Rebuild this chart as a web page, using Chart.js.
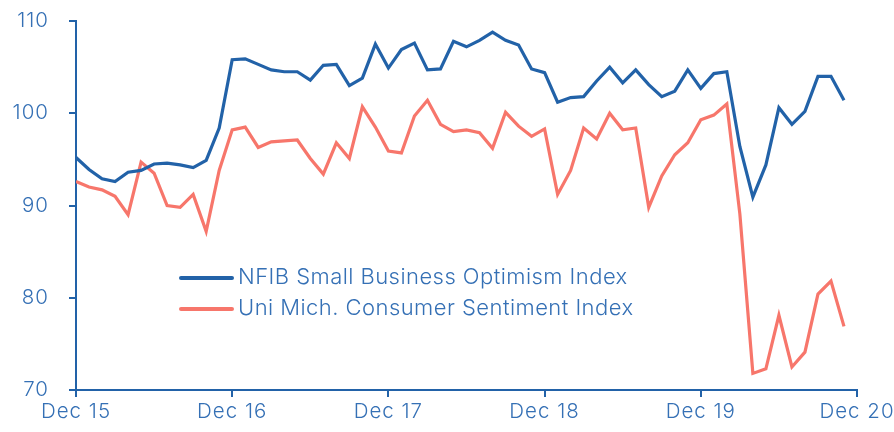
<!DOCTYPE html>
<html>
<head>
<meta charset="utf-8">
<script src="https://cdn.jsdelivr.net/npm/chart.js@4.4.1/dist/chart.umd.min.js"></script>
<style>
  html, body { margin: 0; padding: 0; background: #fff; overflow: hidden; }
  #wrap { width: 894px; height: 432px; }
</style>
</head>
<body>
<div id="wrap"><canvas id="grafico" width="894" height="432"></canvas></div>
<script>
// meses desde Dic 15 hasta Nov 20
const etiquetasX = ['Dec 15', 'Dec 16', 'Dec 17', 'Dec 18', 'Dec 19', 'Dec 20'];
const ticksY = [70, 80, 90, 100, 110];

const nfib = [
  95.2,
  93.9, 92.9, 92.6, 93.6, 93.8, 94.5, 94.6, 94.4, 94.1, 94.9, 98.4, 105.8,
  105.9, 105.3, 104.7, 104.5, 104.5, 103.6, 105.2, 105.3, 103.0, 103.8, 107.5, 104.9,
  106.9, 107.6, 104.7, 104.8, 107.8, 107.2, 107.9, 108.8, 107.9, 107.4, 104.8, 104.4,
  101.2, 101.7, 101.8, 103.5, 105.0, 103.3, 104.7, 103.1, 101.8, 102.4, 104.7, 102.7,
  104.3, 104.5, 96.4, 90.9, 94.4, 100.6, 98.8, 100.2, 104.0, 104.0, 101.4
];

const umich = [
  92.6,
  92.0, 91.7, 91.0, 89.0, 94.7, 93.5, 90.0, 89.8, 91.2, 87.2, 93.8, 98.2,
  98.5, 96.3, 96.9, 97.0, 97.1, 95.1, 93.4, 96.8, 95.1, 100.7, 98.5, 95.9,
  95.7, 99.7, 101.4, 98.8, 98.0, 98.2, 97.9, 96.2, 100.1, 98.6, 97.5, 98.3,
  91.2, 93.8, 98.4, 97.2, 100.0, 98.2, 98.4, 89.8, 93.2, 95.5, 96.8, 99.3,
  99.8, 101.0, 89.1, 71.8, 72.3, 78.1, 72.5, 74.1, 80.4, 81.8, 76.9
];

const azul = '#2262a8';
const rojo = '#f7766b';
const azulTexto = '#3570b5';
const fuente = "Inter, 'Liberation Sans', sans-serif";

const puntos = arr => arr.map((v, i) => ({x: i, y: v}));

// espaciado de letras para los textos de los ejes
const espaciado = {
  id: 'espaciado',
  beforeDraw(chart) { chart.ctx.letterSpacing = '1px'; },
  afterDraw(chart) { chart.ctx.letterSpacing = '0px'; }
};

// leyenda dentro del grafico
const leyenda = {
  id: 'leyenda',
  afterDraw(chart) {
    const ctx = chart.ctx;
    const items = chart.data.datasets;
    ctx.save();
    ctx.font = '300 22px ' + fuente;
    ctx.letterSpacing = '0.45px';
    ctx.textBaseline = 'middle';
    items.forEach((ds, i) => {
      const y = 277 + i * 31;
      ctx.strokeStyle = ds.borderColor;
      ctx.lineWidth = 4;
      ctx.lineCap = 'round';
      ctx.beginPath();
      ctx.moveTo(181, y + 1);
      ctx.lineTo(232, y + 1);
      ctx.stroke();
      ctx.fillStyle = azulTexto;
      ctx.fillText(ds.label, 238, y);
    });
    ctx.restore();
  }
};

const ctx = document.getElementById('grafico').getContext('2d');
const chart = new Chart(ctx, {
  type: 'line',
  data: {
    datasets: [{
      label: 'NFIB Small Business Optimism Index',
      data: puntos(nfib),
      borderColor: azul,
      borderWidth: 3.2,
      pointRadius: 0,
      fill: false
    }, {
      label: 'Uni Mich. Consumer Sentiment Index',
      data: puntos(umich),
      borderColor: rojo,
      borderWidth: 3.2,
      pointRadius: 0,
      fill: false
    }]
  },
  options: {
    responsive: false,
    animation: false,
    layout: { padding: { top: 21, right: 37, left: 0, bottom: 0 } },
    plugins: { legend: { display: false }, tooltip: { enabled: false } },
    scales: {
      x: {
        type: 'linear',
        min: 0,
        max: 60,
        afterBuildTicks: s => { s.ticks = etiquetasX.map((t, i) => ({value: i * 12})); },
        afterFit: s => { s.height = 42; s.paddingLeft = 0; s.paddingRight = 0; },
        ticks: {
          callback: (v) => etiquetasX[v / 12],
          color: azulTexto,
          font: { family: fuente, size: 20.5, weight: 300 },
          padding: 3,
          maxRotation: 0,
          autoSkip: false
        },
        grid: { drawOnChartArea: false, color: azul, tickLength: 7, lineWidth: 2 },
        border: { color: azul, width: 2 }
      },
      y: {
        min: 70,
        max: 110,
        afterBuildTicks: s => { s.ticks = ticksY.map(v => ({value: v})); },
        afterFit: s => { s.width = 76; s.paddingTop = 0; s.paddingBottom = 0; },
        ticks: {
          color: azulTexto,
          font: { family: fuente, size: 20.5, weight: 300 },
          padding: 20
        },
        grid: { drawOnChartArea: false, color: azul, tickLength: 7, lineWidth: 2 },
        border: { color: azul, width: 2 }
      }
    }
  },
  plugins: [espaciado, leyenda]
});
</script>
</body>
</html>
